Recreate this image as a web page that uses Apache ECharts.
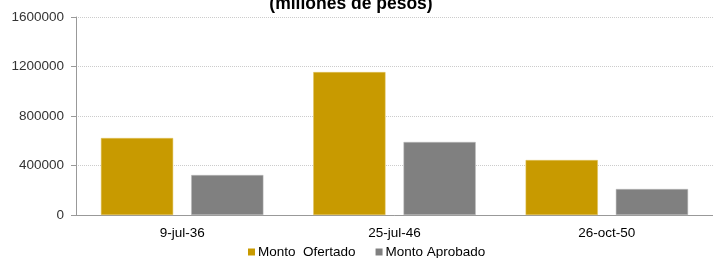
<!DOCTYPE html>
<html>
<head>
<meta charset="utf-8">
<script src="https://cdn.jsdelivr.net/npm/echarts@6/dist/echarts.min.js"></script>
<style>
  html, body { margin: 0; padding: 0; background: #fff; }
  #grafico { width: 713px; height: 258px; }
</style>
</head>
<body>
<div id="grafico"></div>
<script>
// datos
const categorias = ["9-jul-36", "25-jul-46", "26-oct-50"];
const montoOfertado = [622000, 1155000, 444000];
const montoAprobado = [323000, 590000, 210000];
const ticksY = [0, 400000, 800000, 1200000, 1600000];

const fuente = "Liberation Sans, Arial, sans-serif";

let options = {
  animation: false,
  textStyle: { fontFamily: fuente },
  title: {
    text: "(millones de pesos)",
    left: 346,
    top: -10,
    textAlign: "center",
    textStyle: { fontSize: 17.5, fontWeight: "bold", color: "#000", fontFamily: fuente }
  },
  legend: {
    bottom: -6,
    left: 243,
    itemWidth: 7,
    itemHeight: 7,
    itemGap: 20,
    icon: "rect",
    itemStyle: { borderWidth: 0 },
    textStyle: { fontSize: 13.5, color: "#000", padding: [0, 0, 0, -2] },
    data: ["Monto  Ofertado", "Monto Aprobado"]
  },
  grid: { left: 76, right: 0, top: 17, bottom: 43, containLabel: false },
  xAxis: {
    type: "category",
    data: categorias,
    axisLine: { lineStyle: { color: "#999", width: 1 } },
    axisTick: { show: false },
    axisLabel: { fontSize: 13.5, color: "#000", margin: 11 }
  },
  yAxis: {
    type: "value",
    min: ticksY[0],
    max: ticksY[ticksY.length - 1],
    interval: 400000,
    axisLine: { show: true, lineStyle: { color: "#999" } },
    axisTick: { show: true, length: 5, lineStyle: { color: "#999" } },
    axisLabel: { fontSize: 13.5, color: "#333", margin: 12, formatter: v => String(v) },
    splitLine: { lineStyle: { color: "#ccc", type: [1, 1] } }
  },
  series: [
    {
      name: "Monto  Ofertado",
      type: "bar",
      data: montoOfertado,
      barWidth: "34%",
      barGap: "25%",
      itemStyle: { color: "#C89A00", borderColor: "#E0C25A", borderWidth: 0.5 }
    },
    {
      name: "Monto Aprobado",
      type: "bar",
      data: montoAprobado,
      barWidth: "34%",
      itemStyle: { color: "#808080", borderColor: "#bbb", borderWidth: 0.5 }
    }
  ]
};

let chart = echarts.init(document.getElementById("grafico"));
chart.setOption(options);
</script>
</body>
</html>
